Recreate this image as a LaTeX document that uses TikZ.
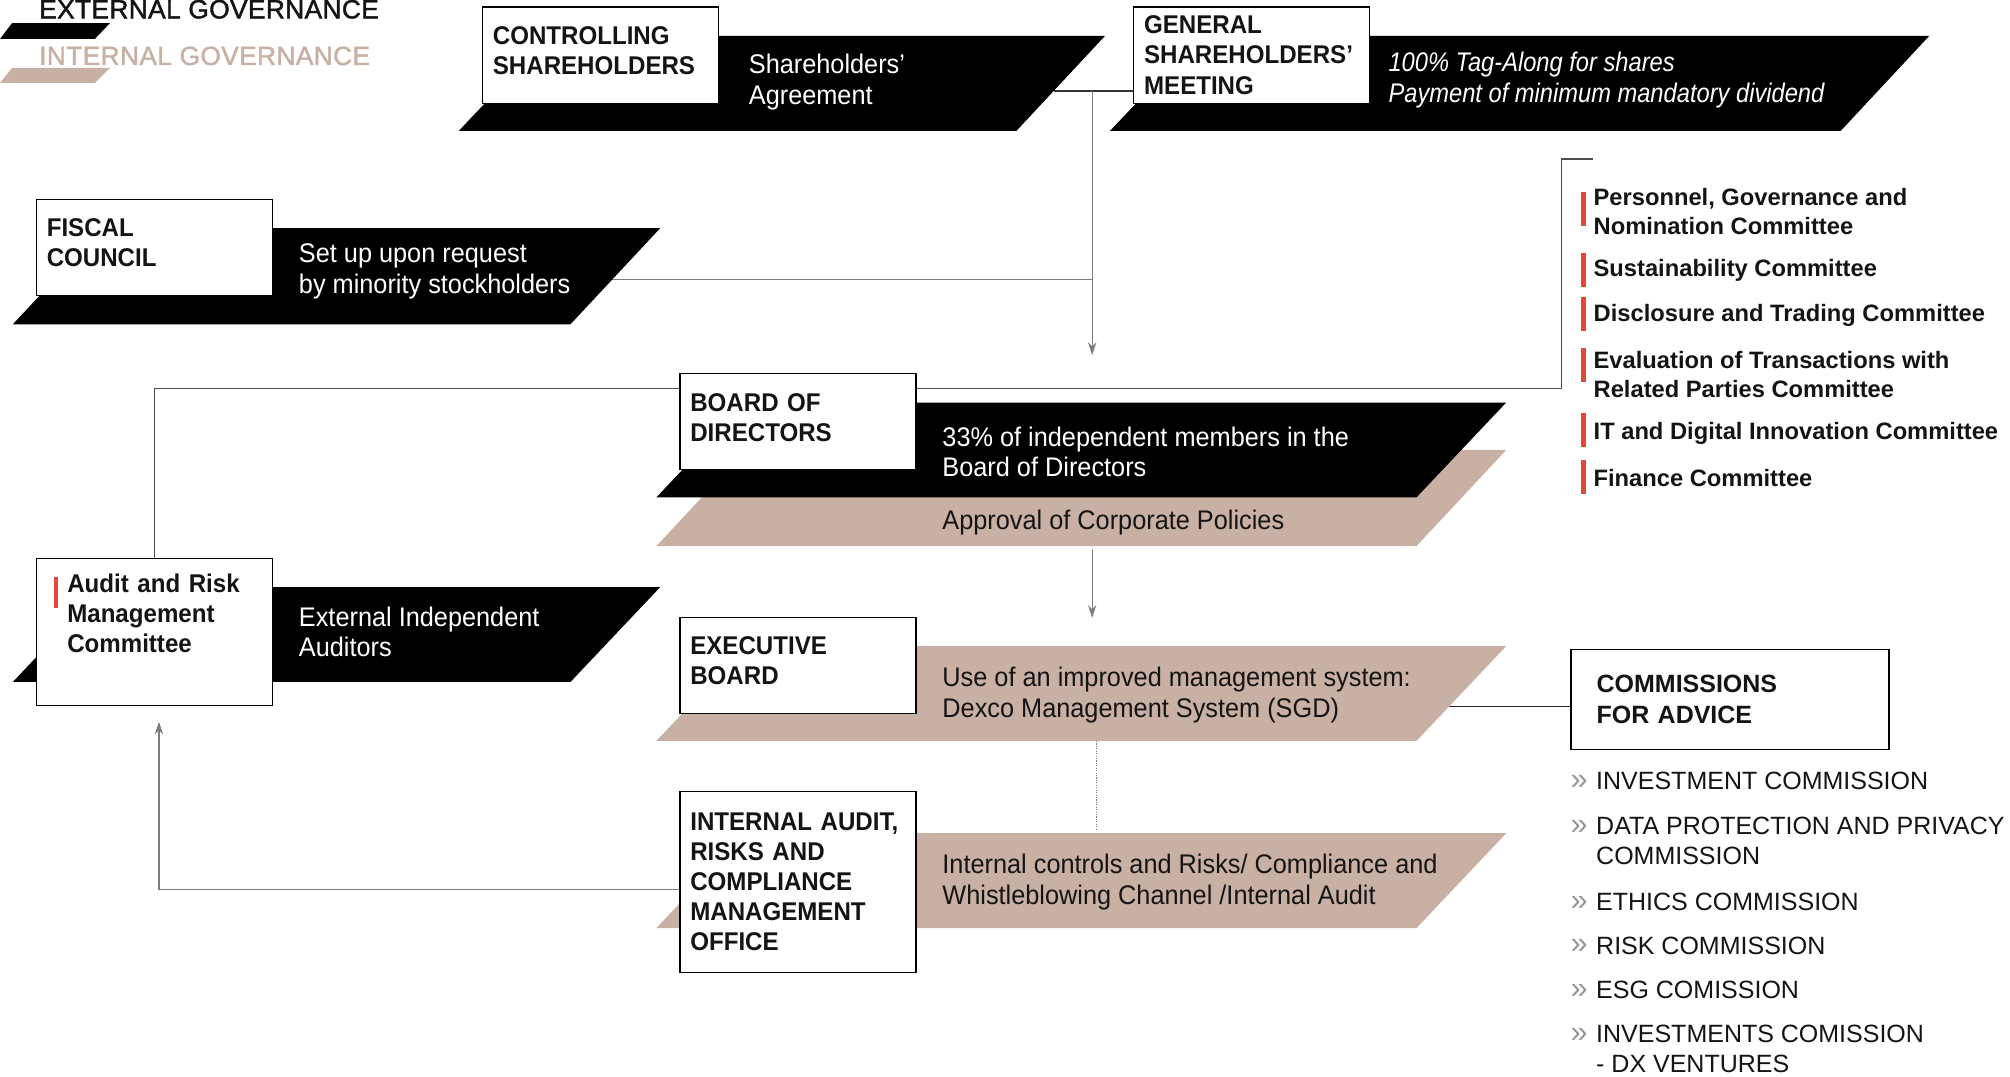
\documentclass[tikz,border=0pt]{standalone}
\usepackage{fontspec}
\setmainfont{Liberation Sans}
\newfontfamily\condfont[FakeStretch=0.94]{Liberation Sans}
\newfontfamily\condital[FakeStretch=0.88]{Liberation Sans}
\newfontfamily\legendfont[FakeBold=1.6, LetterSpace=1.5]{Liberation Sans}
\usepackage{tikz}
\usetikzlibrary{arrows.meta, backgrounds}
\definecolor{govtan}{RGB}{200,176,164}
\definecolor{govred}{RGB}{228,70,58}
\definecolor{linkgray}{RGB}{125,125,125}
\definecolor{inkdark}{RGB}{20,20,20}
\definecolor{chevgray}{RGB}{150,150,150}
% extra room under a box title, so that it sits a little higher
\newcommand{\liftup}{\\[-16.5pt]\mbox{}}

\tikzset{
  extband/.style={fill=black},
  intband/.style={fill=govtan},
  govbox/.style={draw=black, line width=1pt, fill=white, anchor=north west, align=left,
    inner xsep=8pt, inner ysep=0pt, minimum width=184pt, minimum height=75pt, text width=168pt,
    font=\condfont\bfseries\fontsize{20}{23.5}\selectfont, text=inkdark},
  bandtext/.style={anchor=west, align=left, inner sep=0pt, font=\condfont\fontsize{21}{24}\selectfont},
  link/.style={draw=linkgray, line width=0.9pt},
  linkarrow/.style={link, -{Stealth[length=10pt, width=6.5pt]}},
  legend/.style={anchor=base west, inner sep=0pt, font=\legendfont\fontsize{20.5}{23}\selectfont},
  committee/.style={anchor=west, align=left, inner sep=0pt, font=\bfseries\fontsize{18.5}{23}\selectfont, text=inkdark},
  commission/.style={anchor=west, align=left, inner sep=0pt, font=\fontsize{19.5}{23.5}\selectfont, text=inkdark},
  chevron/.style={anchor=base west, inner sep=0pt, font=\fontsize{24}{24}\selectfont, text=chevgray},
}

\begin{document}
\begin{tikzpicture}[x=1pt, y=-1pt]
    \useasboundingbox (0,0) rectangle (1568,840);

    % Legend
    \fill[extband] (9.4,18) -- (85.8,18) -- (74,30.4) -- (0,30.4) -- cycle;
    \fill[intband] (9.4,53) -- (85.8,53) -- (74,64.7) -- (0,64.7) -- cycle;
    \node[legend, text=inkdark] (extlabel) at (30.4,14.3) {EXTERNAL GOVERNANCE};
    \node[legend, text=govtan] (intlabel) at (30.4,50.7) {INTERNAL GOVERNANCE};

    % Governance bands
    \fill[extband] (428,28) -- (862,28) -- (793,102) -- (358,102) -- cycle;
    \fill[extband] (936,28) -- (1505,28) -- (1436,102) -- (866,102) -- cycle;
    \fill[extband] (80,178) -- (515,178) -- (445,253) -- (10,253) -- cycle;
    \fill[intband] (582,351) -- (1175,351) -- (1105,426) -- (512,426) -- cycle;
    \fill[extband] (582,314) -- (1175,314) -- (1105,388) -- (512,388) -- cycle;
    \fill[extband] (80,458) -- (515,458) -- (445,532) -- (10,532) -- cycle;
    \fill[intband] (582,504) -- (1175,504) -- (1105,578) -- (512,578) -- cycle;
    \fill[intband] (582,650) -- (1175,650) -- (1105,724) -- (512,724) -- cycle;

    % Boxes
    \node[govbox] (ctrl) at (376,5) {CONTROLLING\\SHAREHOLDERS\liftup};
    \node[govbox] (gsm) at (884,5) {GENERAL\\SHAREHOLDERS’\\MEETING};
    \node[govbox] (fiscal) at (28,155) {FISCAL\\COUNCIL\liftup};
    \node[govbox] (board) at (530,291) {BOARD OF\\DIRECTORS\liftup};
    \node[govbox, minimum height=115pt, inner xsep=24pt, text width=136pt] (audit) at (28,435)
        {Audit and Risk\\Management\\Committee\\[6pt]\mbox{}};
    \node[govbox] (exec) at (530,481) {EXECUTIVE\\BOARD\liftup};
    \node[govbox, minimum height=141pt] (intaudit) at (530,617)
        {INTERNAL AUDIT,\\RISKS AND\\COMPLIANCE\\MANAGEMENT\\OFFICE};
    \node[govbox, minimum width=248pt, minimum height=78pt, inner xsep=20pt, text width=208pt,
        font=\bfseries\fontsize{19.5}{24}\selectfont] (comm) at (1225,506) {COMMISSIONS\\FOR ADVICE};
    \fill[govred] (41.8,450) rectangle (45.3,474);

    % Connectors
    \coordinate (ctrlout) at (822,71);
    \coordinate (split) at (852,71);
    \coordinate (boardin) at (852,277);
    \coordinate (fiscalout) at (477,218);
    \coordinate (boardrail) at (1218,303);
    \coordinate (cmtop) at (1218,124);
    \coordinate (cmtick) at (1243,124);
    \coordinate (boardout) at (852,428);
    \coordinate (execin) at (852,482);
    \coordinate (execout) at (1130,551);
    \coordinate (execlow) at (855,578);
    \coordinate (intaudtop) at (855,648);
    \coordinate (intaudout) at (530,694);
    \coordinate (auditin) at (124,563);
    \begin{scope}[on background layer]
    \draw[link, draw=black!80] (ctrlout) -- (ctrlout -| gsm.west);
    \draw[linkarrow] (split) -- (boardin);
    \draw[link] (fiscalout) -- (fiscalout -| split);
    \draw[link, draw=black!70] (audit.north) |- (boardrail) -- (cmtop) -- (cmtick);
    \draw[linkarrow] (boardout) -- (execin);
    \draw[link, draw=black!85] (execout) -- (execout -| comm.west);
    \draw[link, densely dotted, line width=0.6pt] (execlow) -- (intaudtop);
    \draw[linkarrow] (intaudout) -| (auditin);
    \end{scope}

    % Band texts
    \node[bandtext, text=white] (ctrlnote) at (584,64) {Shareholders’\\Agreement};
    \node[bandtext, text=white, font=\condital\itshape\fontsize{21}{24.5}\selectfont] (gsmnote) at (1083,62.5)
        {100\% Tag-Along for shares\\Payment of minimum mandatory dividend};
    \node[bandtext, text=white] (fiscalnote) at (233,211.5) {Set up upon request\\by minority stockholders};
    \node[bandtext, text=white] (auditnote) at (233,493) {External Independent\\Auditors};
    \node[bandtext, text=white] (boardnote) at (735,352.5) {33\% of independent members in the\\Board of Directors};
    \node[bandtext, text=inkdark] (policynote) at (735,408) {Approval of Corporate Policies};
    \node[bandtext, text=inkdark] (execnote) at (735,542) {Use of an improved management system:\\Dexco Management System (SGD)};
    \node[bandtext, text=inkdark] (intauditnote) at (735,688)
        {Internal controls and Risks/ Compliance and\\Whistleblowing Channel /Internal Audit};

    % Board committees
    \fill[govred] (1233,150) rectangle (1237,176);
    \fill[govred] (1233,197) rectangle (1237,223.5);
    \fill[govred] (1233,232) rectangle (1237,258.5);
    \fill[govred] (1233,271.5) rectangle (1237,298);
    \fill[govred] (1233,322.5) rectangle (1237,348.5);
    \fill[govred] (1233,359) rectangle (1237,385.5);
    \node[committee] (cpgn) at (1243,165) {Personnel, Governance and\\Nomination Committee};
    \node[committee] (csus) at (1243,211) {Sustainability Committee};
    \node[committee] (cdis) at (1243,246) {Disclosure and Trading Committee};
    \node[committee] (cevt) at (1243,292) {Evaluation of Transactions with\\Related Parties Committee};
    \node[committee] (cidi) at (1243,338) {IT and Digital Innovation Committee};
    \node[committee] (cfin) at (1243,373) {Finance Committee};

    % Commissions for advice
    \node[chevron] (chv1) at (1225,616) {»};
    \node[chevron] (chv2) at (1225,651) {»};
    \node[chevron] (chv3) at (1225,710) {»};
    \node[chevron] (chv4) at (1225,744) {»};
    \node[chevron] (chv5) at (1225,779) {»};
    \node[chevron] (chv6) at (1225,813) {»};
    \node[commission] (cinv) at (1245,609.5) {INVESTMENT COMMISSION};
    \node[commission] (cdpp) at (1245,656) {DATA PROTECTION AND PRIVACY\\COMMISSION};
    \node[commission] (ceth) at (1245,703.5) {ETHICS COMMISSION};
    \node[commission] (crsk) at (1245,737.5) {RISK COMMISSION};
    \node[commission] (cesg) at (1245,772.5) {ESG COMISSION};
    \node[commission] (cdxv) at (1245,818.5) {INVESTMENTS COMISSION\\- DX VENTURES};
\end{tikzpicture}
\end{document}
